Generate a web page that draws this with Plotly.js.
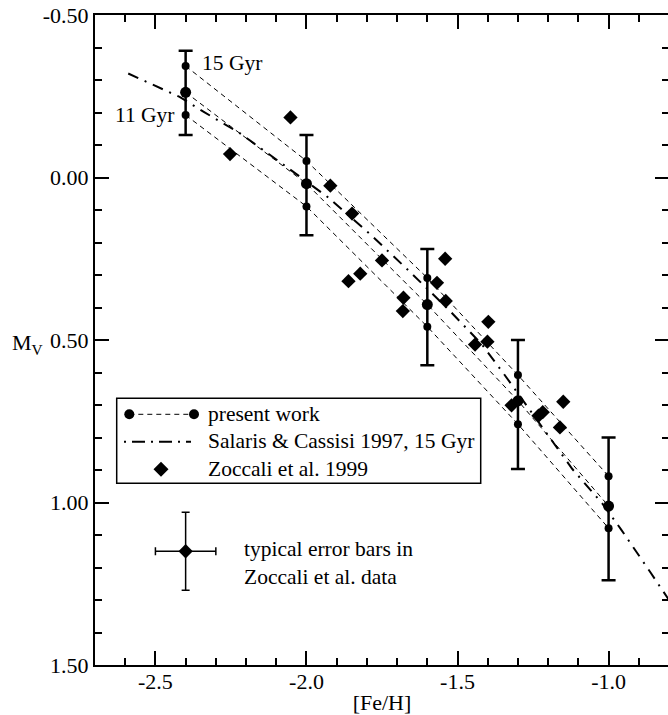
<!DOCTYPE html>
<html><head><meta charset="utf-8">
<script src="https://cdn.plot.ly/plotly-3.0.1.min.js"></script>
<style>html,body{margin:0;padding:0;overflow:hidden;background:#fff;width:668px;height:715px}</style>
</head><body><div id="chart" style="width:672px;height:715px"></div>
<script>
// ---- Present work: three age sequences at each [Fe/H] ----
const feh = [-2.4, -2.0, -1.6, -1.3, -1.0];
const mv15 = [-0.343, -0.051, 0.309, 0.608, 0.919];   // 15 Gyr
const mvMid = [-0.262, 0.019, 0.391, 0.687, 1.011];   // middle age
const mv11 = [-0.192, 0.089, 0.459, 0.759, 1.079];    // 11 Gyr
const errPlus = [0.131, 0.159, 0.187, 0.210, 0.228];
const errMinus = [0.128, 0.150, 0.171, 0.187, 0.211];

// ---- Salaris & Cassisi 1997, 15 Gyr ----
const scFeh = [-2.59, -2.42, -2.34, -2.22, -2.08, -1.93, -1.79, -1.66, -1.53, -1.42, -1.35, -1.12, -1.02, -0.96, -0.86, -0.80];
const scMv  = [-0.32, -0.248, -0.202, -0.136, -0.042, 0.06, 0.174, 0.288, 0.406, 0.513, 0.60, 0.897, 1.004, 1.081, 1.217, 1.30];

// ---- Zoccali et al. 1999 ----
const zFeh = [-2.253, -2.053, -1.921, -1.849, -1.861, -1.822, -1.750, -1.679, -1.681, -1.568, -1.541, -1.539, -1.442, -1.401, -1.398, -1.321, -1.232, -1.218, -1.161, -1.150];
const zMv  = [-0.072, -0.185, 0.025, 0.111, 0.319, 0.296, 0.255, 0.370, 0.411, 0.324, 0.250, 0.380, 0.514, 0.505, 0.444, 0.701, 0.733, 0.722, 0.769, 0.690];

// ---- typical error bar sample ----
const typFeh = [-2.4];
const typMv = [1.15];
const typErrX = [0.1];
const typErrY = [0.12];

// ---- ticks and labels ----
const xTickVals = [-2.5, -2.0, -1.5, -1.0];
const xTickText = ['-2.5', '-2.0', '-1.5', '-1.0'];
const yTickVals = [-0.5, 0.0, 0.5, 1.0, 1.5];
const yTickText = ['-0.50', '0.00', '0.50', '1.00', '1.50'];
const legendLabels = ['present work', 'Salaris & Cassisi 1997, 15 Gyr', 'Zoccali et al. 1999'];
const ageLabels = ['15 Gyr', '11 Gyr'];
const typLabels = ['typical error bars in', 'Zoccali et al. data'];

const FONT = 'Liberation Serif, Times New Roman, serif';
const FS = 22;      // tick labels / axis titles
const FT = 21.5;    // in-plot texts
const BLK = '#000';
const W = 672, H = 715;
const M = {l: 95, r: 3, t: 15, b: 50};
const PW = W - M.l - M.r, PH = H - M.t - M.b;
const px = x => (x - M.l) / PW;
const py = y => 1 - (y - M.t) / PH;

const dashed = {color: BLK, width: 1, dash: '5px,4px'};

const traces = [
  {x: scFeh, y: scMv, mode: 'lines', line: {color: BLK, width: 2, dash: '11px,7px,2px,7px'}, showlegend: false},
  {x: feh, y: mv15, mode: 'lines+markers', line: dashed, marker: {color: BLK, size: 8}, showlegend: false},
  {x: feh, y: mv11, mode: 'lines+markers', line: dashed, marker: {color: BLK, size: 8}, showlegend: false},
  {x: feh, y: mvMid, mode: 'lines+markers', line: dashed, marker: {color: BLK, size: 11},
   error_y: {type: 'data', symmetric: false, array: errPlus, arrayminus: errMinus, color: BLK, thickness: 2.5, width: 7},
   showlegend: false},
  {x: zFeh, y: zMv, mode: 'markers', marker: {color: BLK, size: 11, symbol: 'diamond'}, showlegend: false},
  {x: typFeh, y: typMv, mode: 'markers', marker: {color: BLK, size: 11, symbol: 'diamond'},
   error_x: {type: 'data', array: typErrX, color: BLK, thickness: 1.5, width: 4},
   error_y: {type: 'data', array: typErrY, color: BLK, thickness: 1.5, width: 4},
   showlegend: false}
];

const axisCommon = {
  showline: true, linewidth: 2, linecolor: BLK, mirror: 'ticks',
  ticks: 'inside', ticklen: 14, tickwidth: 2, tickcolor: BLK,
  showgrid: false, zeroline: false, tickmode: 'array',
  tickfont: {family: FONT, size: FS, color: BLK},
  minor: {tickmode: 'linear', tick0: 0, dtick: 0.1, ticks: 'inside', ticklen: 7, tickwidth: 2, tickcolor: BLK, showgrid: false}
};

const shapes = [
  {type: 'rect', xref: 'paper', yref: 'paper', x0: px(116.7), x1: px(480.7), y0: py(483.3), y1: py(398.3),
   line: {color: BLK, width: 1.5}, fillcolor: 'rgba(0,0,0,0)'},
  {type: 'line', xref: 'paper', yref: 'paper', x0: px(129.3), x1: px(194), y0: py(414.3), y1: py(414.3), line: dashed},
  {type: 'circle', xref: 'paper', yref: 'paper', xsizemode: 'pixel', ysizemode: 'pixel', xanchor: px(129.3), yanchor: py(414.3),
   x0: -5, x1: 5, y0: -5, y1: 5, fillcolor: BLK, line: {width: 0}},
  {type: 'circle', xref: 'paper', yref: 'paper', xsizemode: 'pixel', ysizemode: 'pixel', xanchor: px(194), yanchor: py(414.3),
   x0: -5, x1: 5, y0: -5, y1: 5, fillcolor: BLK, line: {width: 0}},
  {type: 'line', xref: 'paper', yref: 'paper', x0: px(124), x1: px(191), y0: py(441.7), y1: py(441.7),
   line: {color: BLK, width: 2, dash: '2px,6px,13px,6px'}},
  {type: 'path', xref: 'paper', yref: 'paper', xsizemode: 'pixel', ysizemode: 'pixel', xanchor: px(161), yanchor: py(469.3),
   path: 'M0,-7.5 L7.5,0 L0,7.5 L-7.5,0 Z', fillcolor: BLK, line: {width: 0}}
];

const ann = (x, y, text, xanchor, size) => ({xref: 'paper', yref: 'paper', x: px(x), y: py(y), text: text,
  showarrow: false, xanchor: xanchor, yanchor: 'middle', align: 'left', font: {family: FONT, size: size || FT, color: BLK}});

const annotations = [
  ann(206, 413.5, legendLabels[0], 'left'),
  ann(206, 441, legendLabels[1], 'left'),
  ann(206, 468.5, legendLabels[2], 'left'),
  ann(241.5, 562.5, typLabels.join('<br>'), 'left'),
  ann(27, 344, 'M<sub>V</sub>', 'center', FS),
  {x: feh[0], y: mv15[0], xref: 'x', yref: 'y', text: ageLabels[0], showarrow: false, xanchor: 'left', yanchor: 'middle',
   xshift: 14, yshift: 3, font: {family: FONT, size: FT, color: BLK}},
  {x: feh[0], y: mv11[0], xref: 'x', yref: 'y', text: ageLabels[1], showarrow: false, xanchor: 'right', yanchor: 'middle',
   xshift: -9, yshift: 0, font: {family: FONT, size: FT, color: BLK}}
];

const layout = {
  width: W, height: H, margin: M,
  paper_bgcolor: '#fff', plot_bgcolor: '#fff',
  font: {family: FONT, size: FS, color: BLK},
  showlegend: false, hovermode: false,
  xaxis: Object.assign({}, axisCommon, {range: [-2.7, -0.8], tickvals: xTickVals, ticktext: xTickText,
    ticklabelstandoff: -4,
    title: {text: '[Fe/H]', font: {family: FONT, size: FS, color: BLK}, standoff: 3}}),
  yaxis: Object.assign({}, axisCommon, {range: [1.5, -0.5], tickvals: yTickVals, ticktext: yTickText}),
  shapes: shapes, annotations: annotations
};

Plotly.newPlot('chart', traces, layout, {staticPlot: true, displayModeBar: false});
</script></body></html>
